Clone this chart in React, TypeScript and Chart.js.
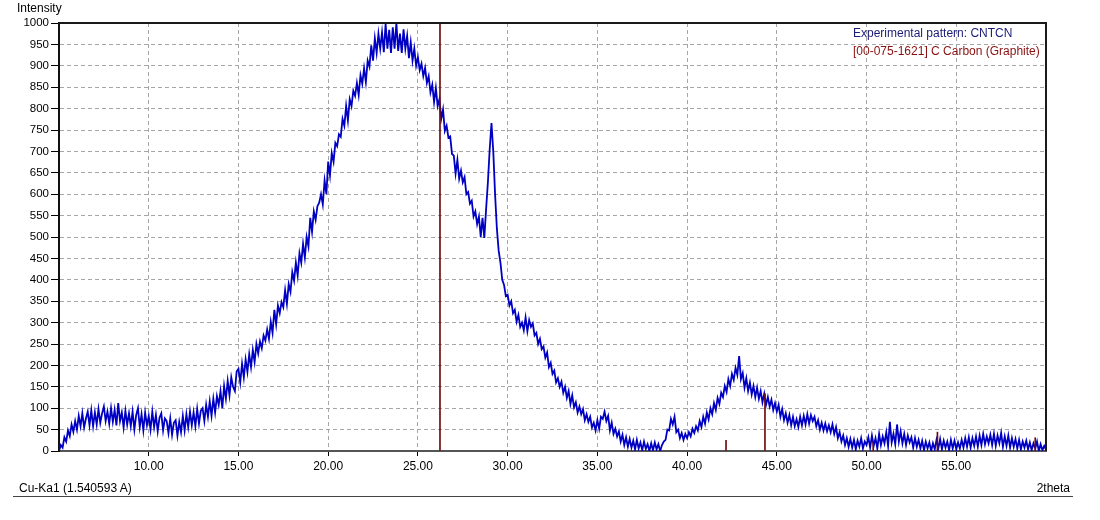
import React, { useEffect, useRef } from "react";
import { Chart, registerables } from "chart.js";

Chart.register(...registerables);

// 2theta sampling of the measured pattern (degrees)
const ANGLE_START = 5.0;
const ANGLE_STEP = 0.1;

// Measured intensity, one row per degree (5.0 .. 60.0)
const intensity = [
  0, 14, 8, 32, 22, 48, 35, 62, 45, 70,
  50, 82, 58, 88, 55, 76, 92, 60, 95, 58,
  90, 62, 98, 66, 88, 104, 70, 92, 64, 100,
  68, 96, 60, 112, 70, 90, 55, 94, 62, 88,
  58, 92, 50, 84, 100, 56, 86, 48, 90, 60,
  82, 50, 92, 56, 84, 46, 78, 88, 48, 76,
  70, 42, 76, 38, 66, 72, 36, 68, 44, 82,
  48, 86, 56, 92, 60, 90, 58, 98, 64, 94,
  100, 70, 108, 80, 116, 82, 122, 90, 128, 108,
  140, 100, 152, 122, 164, 130, 172, 150, 140, 186,
  192, 160, 204, 172, 214, 185, 226, 196, 236, 208,
  250, 228, 256, 240, 270, 258, 284, 262, 302, 276,
  330, 296, 340, 322, 348, 336, 376, 344, 390, 372,
  418, 398, 440, 410, 462, 440, 484, 452, 500, 478,
  545, 512, 560, 540, 572, 580, 600, 576, 632, 600,
  676, 644, 696, 676, 720, 712, 740, 734, 776, 760,
  806, 772, 822, 806, 842, 830, 860, 832, 878, 858,
  894, 862, 912, 898, 948, 912, 964, 930, 975, 940,
  978, 932, 998, 940, 984, 930, 990, 940, 1000, 935,
  975, 930, 985, 940, 970, 918, 955, 912, 940, 900,
  920, 890, 905, 876, 895, 860, 876, 838, 856, 815,
  848, 806, 822, 776, 798, 748, 760, 732, 735, 694,
  690, 648, 680, 636, 655, 628, 640, 600, 605, 578,
  585, 548, 560, 530, 548, 500, 545, 498, 565, 628,
  705, 766, 700, 600, 520, 468, 440, 400, 388, 362,
  365, 340, 350, 322, 330, 302, 318, 290, 300, 282,
  312, 280, 306, 290, 298, 270, 276, 250, 262, 238,
  244, 218, 230, 196, 206, 180, 188, 160, 170, 150,
  162, 136, 150, 124, 140, 110, 130, 102, 114, 90,
  104, 86, 98, 72, 86, 68, 80, 55, 66, 48,
  72, 52, 80, 75, 92, 70, 82, 48, 66, 40,
  52, 34, 46, 22, 38, 14, 32, 10, 28, 8,
  24, 4, 26, 6, 20, 2, 22, 5, 16, 0,
  18, 2, 20, 4, 16, 0, 14, 22, 26, 50,
  48, 75, 62, 80, 44, 50, 30, 42, 26, 40,
  30, 44, 34, 52, 42, 58, 48, 70, 56, 80,
  64, 90, 74, 100, 86, 112, 96, 124, 110, 136,
  126, 152, 138, 168, 152, 180, 166, 194, 178, 222,
  168, 182, 148, 170, 140, 160, 132, 152, 126, 148,
  122, 140, 114, 134, 108, 126, 104, 120, 96, 112,
  92, 108, 80, 98, 72, 88, 66, 84, 60, 80,
  58, 74, 56, 80, 60, 82, 62, 86, 64, 84,
  70, 80, 58, 72, 50, 66, 48, 64, 46, 60,
  44, 62, 40, 56, 30, 44, 22, 36, 14, 30,
  10, 28, 8, 26, 4, 24, 10, 30, 6, 22,
  14, 32, 8, 36, 12, 30, 6, 40, 14, 34,
  18, 44, 12, 68, 20, 40, 16, 62, 22, 46,
  18, 40, 14, 36, 20, 32, 8, 30, 10, 26,
  6, 24, 2, 22, 6, 20, 0, 18, 4, 26,
  6, 28, 4, 24, 8, 22, 2, 26, 6, 24,
  4, 20, 6, 26, 8, 30, 10, 32, 8, 30,
  12, 34, 10, 36, 14, 40, 16, 34, 18, 38,
  14, 40, 12, 36, 18, 42, 10, 34, 12, 36,
  8, 30, 10, 28, 6, 26, 4, 22, 8, 24,
  4, 20, 2, 18, 6, 22, 0, 16, 2, 12,
  3,
];

// Reference stick pattern: [00-075-1621] C Carbon (Graphite)
const stickAngles = [26.23, 42.17, 44.34, 50.37, 53.95, 59.4];
const stickHeights = [1000, 25, 134, 21, 44, 31];

// Axis ticks
const xTickValues = [10, 15, 20, 25, 30, 35, 40, 45, 50, 55];
const X_MIN = 5;
const X_MAX = 60;
const Y_MIN = 0;
const Y_MAX = 1000;
const Y_STEP = 50;

const seriesLabel = "Experimental pattern: CNTCN";
const referenceLabel = "[00-075-1621] C Carbon (Graphite)";
const yTitle = "Intensity";
const xTitle = "2theta";
const wavelengthLabel = "Cu-Ka1 (1.540593 A)";

const FONT = "'Liberation Sans', Arial, sans-serif";

const framePlugin = {
  id: "frame",
  afterDatasetsDraw(chart: any) {
    const { ctx, chartArea } = chart;
    const { left, top, right, bottom } = chartArea;
    ctx.save();
    ctx.strokeStyle = "#1a1a1a";
    ctx.lineWidth = 2;
    ctx.beginPath();
    ctx.moveTo(left, top);
    ctx.lineTo(right, top);
    ctx.lineTo(right, bottom);
    ctx.stroke();
    ctx.restore();
  },
};

export default function App() {
  const canvasRef = useRef<HTMLCanvasElement | null>(null);

  useEffect(() => {
    if (!canvasRef.current) return;
    const points = intensity.map((v, i) => ({
      x: +(ANGLE_START + i * ANGLE_STEP).toFixed(2),
      y: v,
    }));
    const sticks = stickAngles.map((a, i) => ({ x: a, y: stickHeights[i] }));

    const chart = new Chart(canvasRef.current, {
      type: "line",
      data: {
        datasets: [
          {
            type: "bar",
            label: referenceLabel,
            data: sticks,
            backgroundColor: "#6e0c0c",
            borderWidth: 0,
            barThickness: 1,
            order: 0,
          } as any,
          {
            type: "line",
            label: seriesLabel,
            data: points,
            borderColor: "#0000c4",
            borderWidth: 1.8,
            pointRadius: 0,
            tension: 0,
            fill: false,
            order: 1,
          },
        ],
      },
      options: {
        responsive: false,
        animation: false,
        layout: { padding: { left: 0, top: 23, right: 54, bottom: 0 } },
        plugins: {
          legend: { display: false },
          tooltip: { enabled: false },
          title: { display: false },
        },
        scales: {
          x: {
            type: "linear",
            min: X_MIN,
            max: X_MAX,
            offset: false,
            afterBuildTicks: (scale: any) => {
              scale.ticks = xTickValues.map((v) => ({ value: v }));
            },
            afterFit: (scale: any) => {
              scale.height = 69;
            },
            ticks: {
              color: "#000",
              font: { family: FONT, size: 12 },
              padding: 3,
              maxRotation: 0,
              autoSkip: false,
              callback: (v: any) => Number(v).toFixed(2),
            },
            grid: {
              offset: false,
              color: "#a6a6a6",
              lineWidth: 1,
              tickLength: 5,
              tickColor: "#000",
            },
            border: { display: true, color: "#555", width: 2, dash: [4, 3] },
          },
          y: {
            type: "linear",
            min: Y_MIN,
            max: Y_MAX,
            afterFit: (scale: any) => {
              scale.width = 59;
            },
            ticks: {
              stepSize: Y_STEP,
              color: "#000",
              font: { family: FONT, size: 11.5 },
              padding: 2,
              callback: (v: any) => String(v),
            },
            grid: {
              color: "#a6a6a6",
              lineWidth: 1,
              tickLength: 8,
              tickColor: "#000",
            },
            border: { display: true, color: "#111", width: 2, dash: [4, 3] },
          },
        },
      },
      plugins: [framePlugin],
    });
    return () => chart.destroy();
  }, []);

  const textBase: React.CSSProperties = {
    position: "absolute",
    fontFamily: FONT,
    fontSize: 12,
    lineHeight: "14px",
    whiteSpace: "nowrap",
    color: "#000",
  };

  return (
    <div
      style={{
        position: "absolute",
        left: 0,
        top: 0,
        width: 1100,
        height: 520,
        background: "#fff",
        overflow: "hidden",
      }}
    >
      <canvas
        ref={canvasRef}
        width={1100}
        height={520}
        style={{ position: "absolute", left: 0, top: 0 }}
      />
      <div style={{ ...textBase, left: 17, top: 1 }}>{yTitle}</div>
      <div style={{ ...textBase, left: 853, top: 26, color: "#1c1c78" }}>{seriesLabel}</div>
      <div style={{ ...textBase, left: 853, top: 44, color: "#8a1010" }}>{referenceLabel}</div>
      <div style={{ ...textBase, left: 19, top: 481 }}>{wavelengthLabel}</div>
      <div style={{ ...textBase, right: 1100 - 1070, top: 481, textAlign: "right" }}>{xTitle}</div>
      <div
        style={{
          position: "absolute",
          left: 13,
          top: 496,
          width: 1060,
          height: 1,
          background: "#444",
        }}
      />
    </div>
  );
}
